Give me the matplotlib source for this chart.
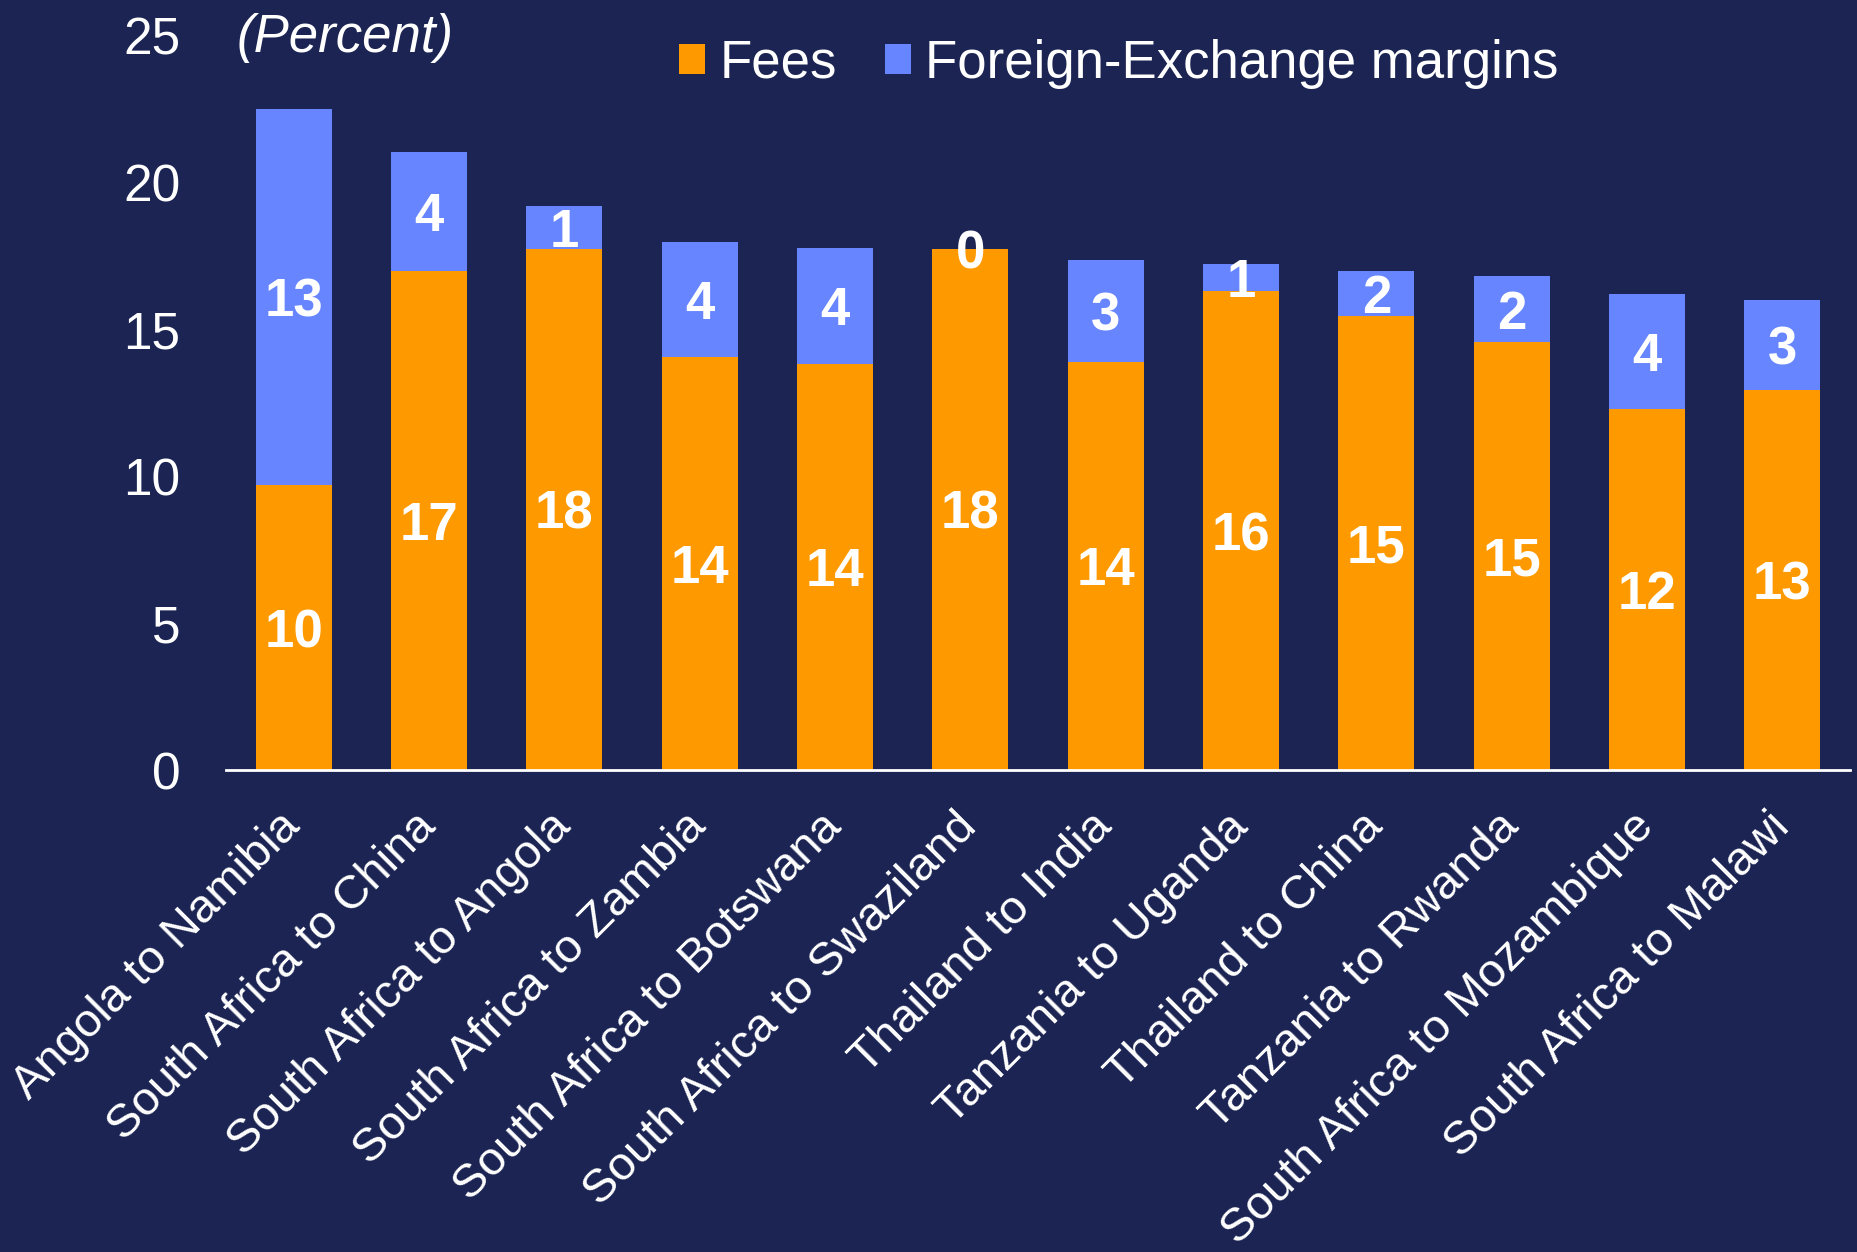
import matplotlib
matplotlib.use("Agg")
import matplotlib.pyplot as plt
from matplotlib.patches import Patch

categories = ["Angola to Namibia", "South Africa to China", "South Africa to Angola",
              "South Africa to Zambia", "South Africa to Botswana", "South Africa to Swaziland",
              "Thailand to India", "Tanzania to Uganda", "Thailand to China",
              "Tanzania to Rwanda", "South Africa to Mozambique", "South Africa to Malawi"]
fees = [9.7, 17.0, 17.74, 14.07, 13.83, 17.74, 13.9, 16.29, 15.45, 14.56, 12.3, 12.94]
fx_margins = [12.8, 4.05, 1.45, 3.9, 3.95, 0.0, 3.47, 0.93, 1.55, 2.25, 3.9, 3.06]
yticks = [0, 5, 10, 15, 20, 25]

BG = "#1b2452"
ORANGE = "#ff9900"
BLUE = "#6685ff"
FONT = ["Liberation Sans", "DejaVu Sans"]
plt.rcParams["font.family"] = FONT

fig = plt.figure(figsize=(18.57, 12.52), dpi=100, facecolor=BG)
ax = fig.add_axes([226/1857, 1-770/1252, (1850-226)/1857, (770-35.5)/1252])
ax.set_facecolor(BG)

x = list(range(len(categories)))
b1 = ax.bar(x, fees, width=0.56, color=ORANGE, label="Fees")
b2 = ax.bar(x, fx_margins, width=0.56, bottom=fees, color=BLUE, label="Foreign-Exchange margins")
for bars in (b1, b2):
    anns = ax.bar_label(bars, labels=["%.0f" % b.get_height() for b in bars], label_type="center",
                        color="white", fontsize=38, fontweight="bold")
    for a in anns:
        a.set_verticalalignment("center_baseline")

ax.set_xlim(-0.5, 11.5)
ax.set_ylim(0, 25)
ax.set_yticks(yticks)
ax.set_yticklabels([str(t) for t in yticks], fontsize=37, color="white")
ax.set_xticks(x)
ax.set_xticklabels(categories, rotation=45, ha="right", va="center", rotation_mode="anchor",
                   fontsize=34, color="white")
ax.tick_params(axis="y", length=0, pad=33)
ax.tick_params(axis="x", length=0, pad=36)
for s in ("left", "right", "top"):
    ax.spines[s].set_visible(False)
ax.spines["bottom"].set_color("white")
ax.spines["bottom"].set_linewidth(2)

fig.text(237/1857, 1-38/1252, "(Percent)", fontsize=38, style="italic", color="white",
         ha="left", va="center")

handles = [Patch(facecolor=ORANGE), Patch(facecolor=BLUE)]
leg = fig.legend(handles, ["Fees", "Foreign-Exchange margins"], loc="center left",
                 bbox_to_anchor=(679/1857, 1-64/1252), ncol=2, frameon=False,
                 fontsize=38, handlelength=0.5, handleheight=0.5, handletextpad=0.27,
                 columnspacing=0.9, borderpad=0, borderaxespad=0)
for t in leg.get_texts():
    t.set_color("white")

fig.savefig("out.png", dpi=100, facecolor=BG)
